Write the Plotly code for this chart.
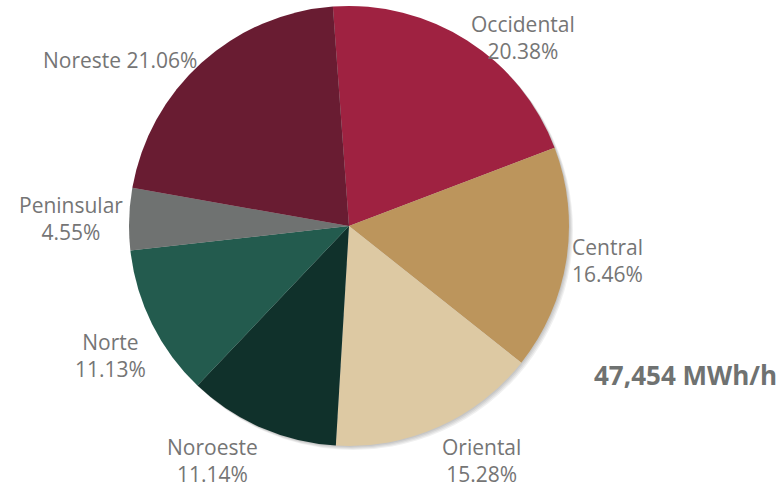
import math
import plotly.graph_objects as go

# Regional share of demand (percent), clockwise from the top
regions = ["Occidental", "Central", "Oriental", "Noroeste", "Norte", "Peninsular", "Noreste"]
shares = [20.38, 16.46, 15.28, 11.14, 11.13, 4.55, 21.06]
colors = ["#9F2241", "#BC955C", "#DDC9A3", "#10312B", "#235B4E", "#6F7271", "#691C32"]
total_label = "47,454 MWh/h"

# Slice labels: name and share, Noreste on a single line
texts = []
for name, val in zip(regions, shares):
    sep = " " if name == "Noreste" else "<br>"
    texts.append(f"{name}{sep}{val:.2f}%")

W, H = 779, 487
cx, cy, r = 349, 226, 220
rotation = -4.2
pad = 4                     # room below the pie for the shadow copies
mt, mb = 6, 41 - pad
ph = H - mt - mb

fig = go.Figure()

# soft drop shadow: a few faint copies of the pie offset down-right
for off in (1, 2, 3, 4):
    fig.add_trace(
        go.Pie(
            values=shares,
            sort=False,
            direction="clockwise",
            rotation=rotation,
            marker=dict(colors=["rgba(0,0,0,0.06)"] * len(shares), line=dict(width=0)),
            textinfo="none",
            hoverinfo="skip",
            showlegend=False,
            domain=dict(
                x=[(cx - r + off) / W, (cx + r + off) / W],
                y=[(pad - off) / ph, 1 - off / ph],
            ),
        )
    )

fig.add_trace(
    go.Pie(
        labels=regions,
        values=shares,
        textinfo="none",
        sort=False,
        direction="clockwise",
        rotation=rotation,
        marker=dict(colors=colors, line=dict(width=0)),
        showlegend=False,
        domain=dict(x=[(cx - r) / W, (cx + r) / W], y=[pad / ph, 1]),
    )
)

# outside labels, anchored just beyond the middle of each slice's arc
total = sum(shares)
start = rotation
for txt, val in zip(texts, shares):
    span = 360 * val / total
    mid = math.radians(start + span / 2)
    start += span
    s, c = math.sin(mid), math.cos(mid)
    px = cx + (r + 4) * s
    py = cy - (r + 4) * c
    fig.add_annotation(
        text=txt,
        x=px / W, y=(H - mb - py) / ph,
        xref="paper", yref="paper",
        xanchor="left" if s > 0 else "right",
        yanchor="top" if c < -0.3 else "middle",
        align="center",
        showarrow=False,
        font=dict(family="Open Sans", size=21, color="#757575"),
    )

fig.add_annotation(
    text=f"<b>{total_label}</b>",
    x=1, y=(H - mb - 375) / ph,
    xref="paper", yref="paper",
    xanchor="right", yanchor="middle",
    showarrow=False,
    font=dict(family="Open Sans", size=26, color="#6F7271"),
)

fig.update_layout(
    width=W, height=H,
    margin=dict(l=0, r=0, t=mt, b=mb),
    paper_bgcolor="white",
    plot_bgcolor="white",
)

fig.write_html("out.html")
